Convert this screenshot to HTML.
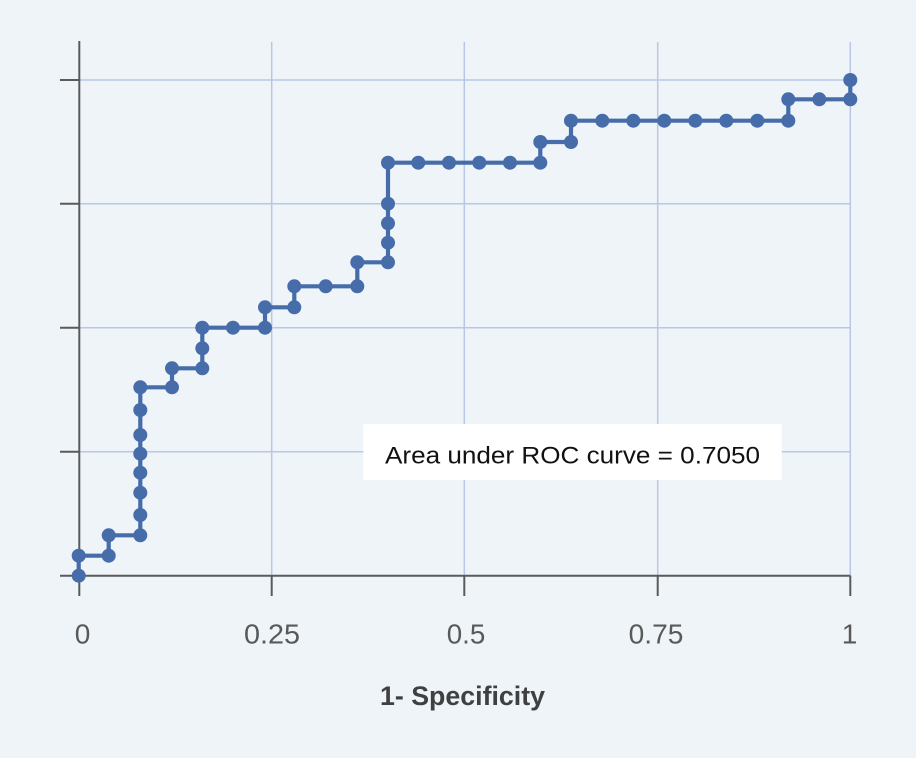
<!DOCTYPE html>
<html>
<head>
<meta charset="utf-8">
<style>
  html,body{margin:0;padding:0;background:#eff4f8;}
  svg{display:block;}
</style>
</head>
<body>
<svg width="916" height="758" viewBox="0 0 916 758" xmlns="http://www.w3.org/2000/svg">
  <rect x="0" y="0" width="916" height="758" fill="#eff4f8"/>
  <g stroke="#b7c7e6" stroke-width="1.5" fill="none">
    <line x1="271.7" y1="42" x2="271.7" y2="576"/>
    <line x1="464.3" y1="42" x2="464.3" y2="576"/>
    <line x1="657.7" y1="42" x2="657.7" y2="576"/>
    <line x1="850.3" y1="42" x2="850.3" y2="576"/>
    <line x1="79.3" y1="80" x2="850.3" y2="80"/>
    <line x1="79.3" y1="203.8" x2="850.3" y2="203.8"/>
    <line x1="79.3" y1="327.7" x2="850.3" y2="327.7"/>
    <line x1="79.3" y1="451.7" x2="850.3" y2="451.7"/>
  </g>
  <g stroke="#5a5a5a" stroke-width="2" fill="none">
    <line x1="79.3" y1="41" x2="79.3" y2="596"/>
    <line x1="60" y1="575.7" x2="850.3" y2="575.7"/>
    <line x1="60" y1="80" x2="79.3" y2="80"/>
    <line x1="60" y1="203.8" x2="79.3" y2="203.8"/>
    <line x1="60" y1="327.7" x2="79.3" y2="327.7"/>
    <line x1="60" y1="451.7" x2="79.3" y2="451.7"/>
    <line x1="271.7" y1="575.7" x2="271.7" y2="596"/>
    <line x1="464.3" y1="575.7" x2="464.3" y2="596"/>
    <line x1="657.7" y1="575.7" x2="657.7" y2="596"/>
    <line x1="850.3" y1="575.7" x2="850.3" y2="596"/>
  </g>
  <polyline fill="none" stroke="#466daa" stroke-width="4.2"
    points="78.7,575.7 78.7,555.7 108.7,555.7 108.7,535.3 140.3,535.3 140.3,387.3 172,387.3 172,368.3 202.3,368.3 202.3,327.7 265,327.7 265,307.3 294.3,307.3 294.3,286.3 357.3,286.3 357.3,262.3 388,262.3 388,162.7 540.3,162.7 540.3,142 571,142 571,120.7 788.3,120.7 788.3,99.3 850.3,99.3 850.3,80"/>
  <g fill="#466daa">
    <circle cx="78.7" cy="575.7" r="7"/>
    <circle cx="78.7" cy="555.7" r="7"/>
    <circle cx="108.7" cy="555.7" r="7"/>
    <circle cx="108.7" cy="535.3" r="7"/>
    <circle cx="140.3" cy="535.3" r="7"/>
    <circle cx="140.3" cy="515" r="7"/>
    <circle cx="140.3" cy="492.7" r="7"/>
    <circle cx="140.3" cy="472.7" r="7"/>
    <circle cx="140.3" cy="453.7" r="7"/>
    <circle cx="140.3" cy="435" r="7"/>
    <circle cx="140.3" cy="410" r="7"/>
    <circle cx="140.3" cy="387.3" r="7"/>
    <circle cx="172" cy="387.3" r="7"/>
    <circle cx="172" cy="368.3" r="7"/>
    <circle cx="202.3" cy="368.3" r="7"/>
    <circle cx="202.3" cy="348.3" r="7"/>
    <circle cx="202.3" cy="327.7" r="7"/>
    <circle cx="233" cy="327.7" r="7"/>
    <circle cx="265" cy="327.7" r="7"/>
    <circle cx="265" cy="307.3" r="7"/>
    <circle cx="294.3" cy="307.3" r="7"/>
    <circle cx="294.3" cy="286.3" r="7"/>
    <circle cx="325.7" cy="286.3" r="7"/>
    <circle cx="357.3" cy="286.3" r="7"/>
    <circle cx="357.3" cy="262.3" r="7"/>
    <circle cx="388" cy="262.3" r="7"/>
    <circle cx="388" cy="242.7" r="7"/>
    <circle cx="388" cy="223.3" r="7"/>
    <circle cx="388" cy="203.7" r="7"/>
    <circle cx="388" cy="162.7" r="7"/>
    <circle cx="418.3" cy="162.7" r="7"/>
    <circle cx="449" cy="162.7" r="7"/>
    <circle cx="479.3" cy="162.7" r="7"/>
    <circle cx="510" cy="162.7" r="7"/>
    <circle cx="540.3" cy="162.7" r="7"/>
    <circle cx="540.3" cy="142" r="7"/>
    <circle cx="571" cy="142" r="7"/>
    <circle cx="571" cy="120.7" r="7"/>
    <circle cx="602.3" cy="120.7" r="7"/>
    <circle cx="633.3" cy="120.7" r="7"/>
    <circle cx="664.3" cy="120.7" r="7"/>
    <circle cx="695.3" cy="120.7" r="7"/>
    <circle cx="726.3" cy="120.7" r="7"/>
    <circle cx="757.3" cy="120.7" r="7"/>
    <circle cx="788.3" cy="120.7" r="7"/>
    <circle cx="788.3" cy="99.3" r="7"/>
    <circle cx="819.3" cy="99.3" r="7"/>
    <circle cx="850.3" cy="99.3" r="7"/>
    <circle cx="850.3" cy="80" r="7"/>
  </g>
  <rect x="363.3" y="424" width="418.4" height="56" fill="#ffffff"/>
  <text x="385" y="463.3" font-family="Liberation Sans, sans-serif" font-size="24" fill="#111111" textLength="375" lengthAdjust="spacingAndGlyphs">Area under ROC curve = 0.7050</text>
  <g font-family="Liberation Sans, sans-serif" font-size="28" fill="#595959" text-anchor="middle">
    <text x="82.5" y="643.5">0</text>
    <text x="272" y="643.5" textLength="56" lengthAdjust="spacingAndGlyphs">0.25</text>
    <text x="466" y="643.5" textLength="38.6" lengthAdjust="spacingAndGlyphs">0.5</text>
    <text x="656" y="643.5" textLength="54.7" lengthAdjust="spacingAndGlyphs">0.75</text>
    <text x="849.6" y="643.5">1</text>
  </g>
  <text x="380" y="705" font-family="Liberation Sans, sans-serif" font-weight="bold" font-size="27" fill="#404040" textLength="165" lengthAdjust="spacingAndGlyphs">1- Specificity</text>
</svg>
</body>
</html>
